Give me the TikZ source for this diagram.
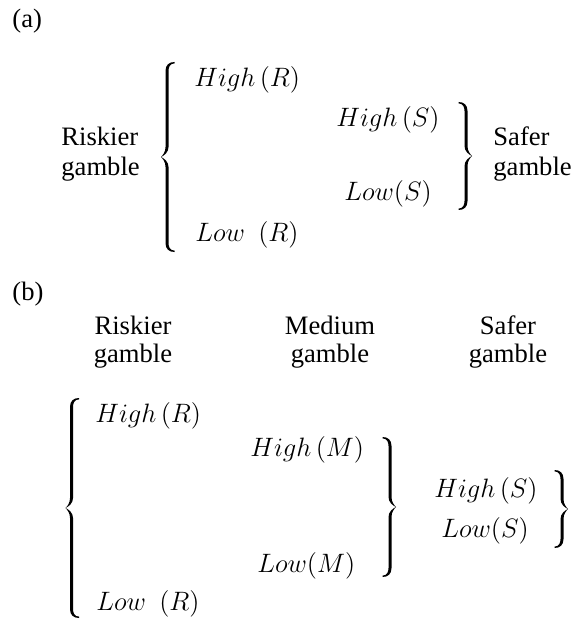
\RequirePackage{fix-cm}
\documentclass[tikz,border=0pt]{standalone}
\usepackage{fontspec}
\setmainfont{Liberation Serif}
% #1 = bar x, #2 = middle y, #3 = half height, #4 = 1 for {, -1 for }
\newcommand\drawbrace[4]{%
  \begin{scope}[shift={(#1,#2)},xscale=#4]
    \fill[bracefill] (7.5,-#3)
      .. controls (2,-#3) and (-1.5,{-#3+3}) .. (-1.5,{-#3+9})
      -- (-1.5,-10)
      .. controls (-1.5,-5) and (-4,-2) .. (-6,0)
      .. controls (-4,2) and (-1.5,5) .. (-1.5,10)
      -- (-1.5,{#3-9})
      .. controls (-1.5,{#3-3}) and (2,#3) .. (7.5,#3)
      -- (7.5,{#3-1.4})
      .. controls (3,{#3-1.4}) and (1.5,{#3-5}) .. (1.5,{#3-9})
      -- (1.5,10)
      .. controls (1.5,5) and (-2.5,1.5) .. (-6,0)
      .. controls (-2.5,-1.5) and (1.5,-5) .. (1.5,-10)
      -- (1.5,{-#3+9})
      .. controls (1.5,{-#3+5}) and (3,{-#3+1.4}) .. (7.5,{-#3+1.4})
      -- cycle;
  \end{scope}}
\begin{document}
\begin{tikzpicture}[x=0.5pt,y=-0.5pt,
  font=\fontsize{13.3}{16}\selectfont,
  txt/.style={inner sep=0pt, anchor=base west},
  ctxt/.style={inner sep=0pt, anchor=base},
  bracefill/.style={fill=black}]
\useasboundingbox (0,0) rectangle (576,620);
% (a)
\node[txt] (la) at (12,28) {(a)};
\node[txt] (ra1) at (61,146) {Riskier};
\node[txt] (ra2) at (61,176) {gamble};
\drawbrace{167}{157}{95}{1}
\node[txt] (hra) at (194,87) {$High\,(R)$};
\node[txt] (hsa) at (336,127) {$High\,(S)$};
\drawbrace{466}{156}{54}{-1}
\node[txt] (lsa) at (344,200) {$Low(S)$};
\node[txt] (lra) at (195,242) {$Low\ \ (R)$};
\node[txt] (sa1) at (493,146) {Safer};
\node[txt] (sa2) at (493,176) {gamble};
% (b)
\node[txt] (lb) at (12,300) {(b)};
\node[ctxt] (rb1) at (133,334) {Riskier};
\node[ctxt] (rb2) at (133,362) {gamble};
\node[ctxt] (mb1) at (330,334) {Medium};
\node[ctxt] (mb2) at (330,362) {gamble};
\node[ctxt] (sb1) at (508,334) {Safer};
\node[ctxt] (sb2) at (508,362) {gamble};
\drawbrace{71.5}{508}{110}{1}
\node[txt] (hrb) at (95,422) {$High\,(R)$};
\node[txt] (hmb) at (250,456) {$High\,(M)$};
\drawbrace{390}{507}{70}{-1}
\node[txt] (hsb) at (434,497) {$High\,(S)$};
\node[txt] (lsb) at (441,537) {$Low(S)$};
\drawbrace{562}{509}{39}{-1}
\node[txt] (lmb) at (257,572) {$Low(M)$};
\node[txt] (lrb) at (96,610) {$Low\ \ (R)$};
\end{tikzpicture}
\end{document}
